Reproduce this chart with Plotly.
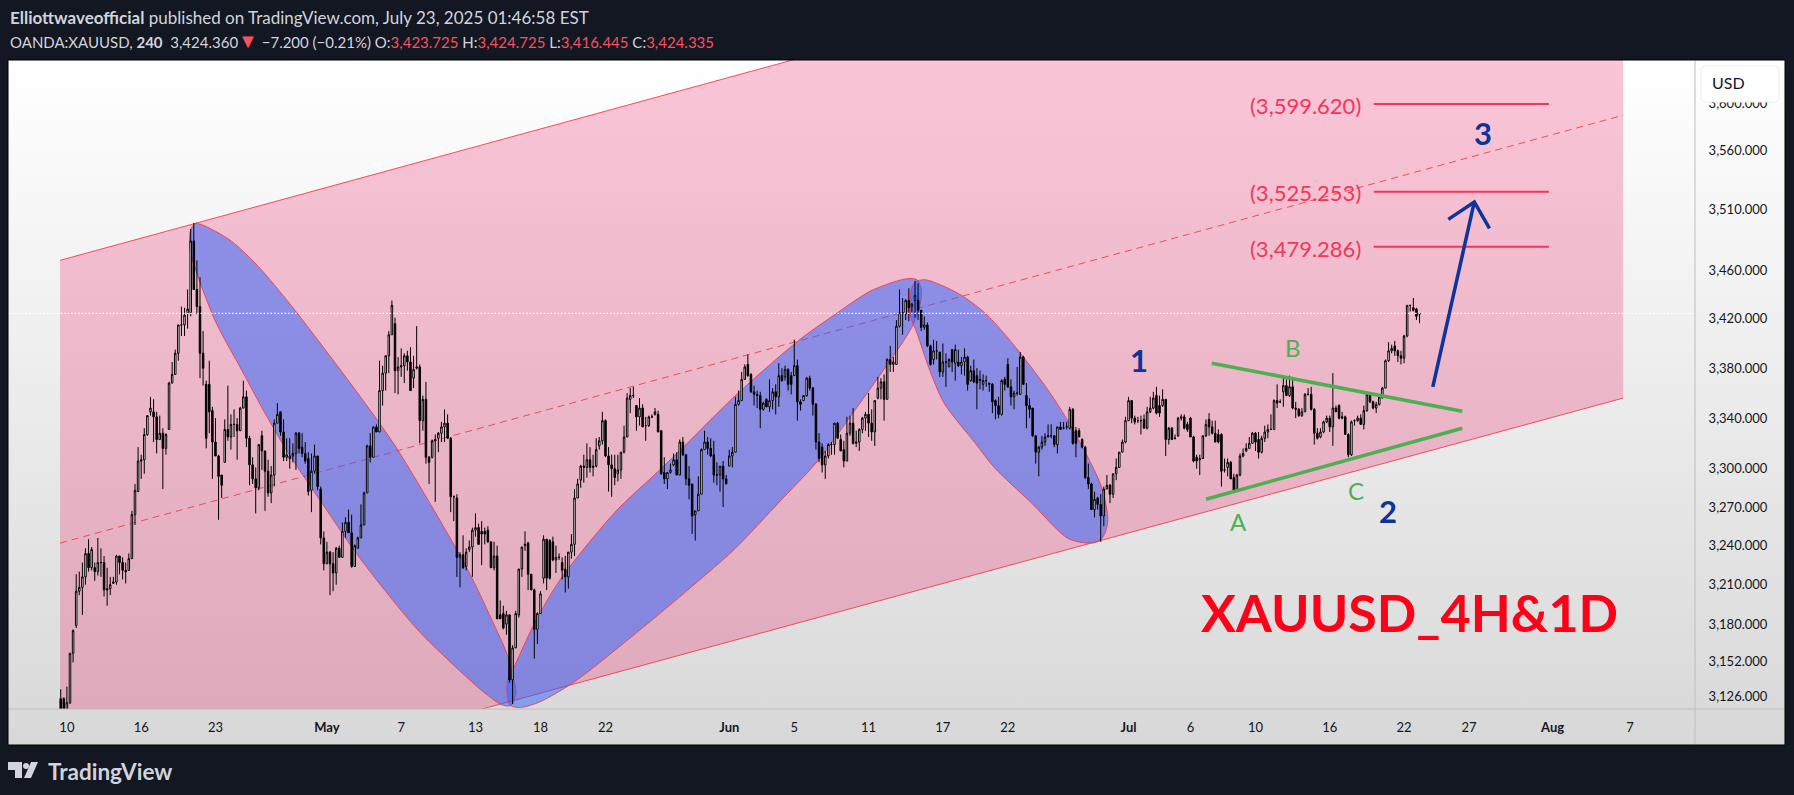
import math
import plotly.graph_objects as go

# 4H bars, left to right
bar_open = [
    3124,3124,3116,3121,3158,3179,3205,3208,3216,3234,
    3223,3223,3220,3227,3227,3207,3207,3211,3212,3232,
    3227,3221,3221,3230,3264,3282,3306,3307,3327,3345,
    3345,3341,3323,3328,3316,3331,3368,3375,3392,3415,
    3415,3425,3425,3484,3444,3430,3392,3367,3367,3346,
    3321,3310,3295,3305,3331,3325,3335,3335,3330,3348,
    3357,3324,3303,3292,3285,3326,3314,3298,3281,3295,
    3336,3345,3329,3309,3308,3310,3312,3328,3317,3312,
    3308,3283,3298,3310,3284,3246,3226,3235,3226,3219,
    3238,3231,3251,3258,3250,3224,3238,3246,3256,3281,
    3318,3309,3333,3329,3362,3376,3390,3407,3416,3378,
    3381,3382,3390,3385,3372,3380,3381,3338,3355,3309,
    3309,3322,3324,3328,3333,3336,3324,3278,3277,3231,
    3233,3224,3237,3239,3252,3254,3251,3251,3252,3243,
    3223,3232,3187,3188,3180,3187,3138,3162,3187,3222,
    3240,3242,3218,3206,3176,3188,3215,3245,3244,3243,
    3229,3231,3227,3222,3216,3235,3241,3277,3291,3302,
    3301,3307,3301,3302,3318,3322,3338,3310,3303,3300,
    3296,3299,3313,3325,3355,3358,3350,3341,3348,3334,
    3334,3341,3343,3343,3330,3297,3292,3297,3303,3307,
    3295,3321,3311,3292,3288,3264,3267,3280,3315,3321,
    3316,3311,3295,3295,3302,3292,3302,3310,3313,3351,
    3354,3371,3383,3375,3361,3359,3358,3347,3355,3349,
    3354,3361,3357,3374,3373,3379,3374,3374,3382,3353,
    3354,3358,3372,3364,3351,3321,3317,3303,3310,3319,
    3319,3336,3323,3315,3306,3328,3336,3320,3321,3331,
    3340,3343,3336,3329,3356,3364,3369,3355,3387,3383,
    3383,3414,3425,3424,3435,3430,3435,3435,3427,3413,
    3415,3398,3387,3394,3393,3377,3385,3381,3395,3384,
    3385,3382,3385,3389,3370,3378,3374,3370,3367,3370,
    3368,3367,3354,3350,3343,3371,3383,3365,3357,3360,
    3359,3389,3358,3350,3348,3326,3313,3317,3321,3325,
    3326,3326,3319,3333,3332,3333,3332,3347,3330,3330,
    3323,3317,3293,3288,3268,3277,3272,3263,3284,3287,
    3280,3296,3301,3313,3321,3338,3354,3340,3338,3338,
    3339,3332,3345,3348,3358,3350,3350,3355,3323,3332,
    3324,3326,3340,3341,3335,3340,3325,3309,3307,3308,
    3326,3339,3333,3328,3327,3327,3299,3301,3305,3293,
    3283,3295,3310,3314,3316,3320,3328,3323,3313,3324,
    3329,3331,3331,3354,3353,3361,3366,3358,3365,3348,
    3347,3342,3345,3359,3359,3347,3328,3325,3329,3337,
    3340,3333,3348,3350,3340,3341,3327,3311,3338,3338,
    3340,3335,3346,3359,3353,3348,3351,3356,3364,3386,
    3394,3398,3394,3390,3388,3406,3431,3429,3428,3423.725,
]
bar_high = [
    3131,3125,3133,3158,3176,3218,3220,3227,3238,3245,
    3239,3227,3246,3238,3232,3223,3216,3216,3233,3232,
    3231,3227,3234,3267,3288,3317,3311,3332,3342,3357,
    3355,3345,3342,3332,3328,3369,3385,3395,3415,3430,
    3429,3444,3494,3499,3468,3454,3410,3370,3386,3349,
    3340,3311,3295,3339,3366,3343,3347,3340,3349,3370,
    3362,3326,3309,3301,3319,3330,3314,3307,3302,3339,
    3352,3345,3339,3324,3324,3320,3329,3329,3328,3321,
    3313,3312,3319,3310,3286,3251,3243,3236,3235,3239,
    3240,3258,3262,3268,3264,3241,3247,3272,3282,3319,
    3328,3333,3335,3386,3382,3390,3410,3435,3421,3389,
    3396,3392,3394,3397,3390,3414,3383,3358,3369,3310,
    3323,3327,3329,3337,3347,3343,3325,3279,3280,3235,
    3248,3238,3244,3254,3265,3257,3259,3254,3255,3243,
    3243,3240,3198,3194,3190,3187,3164,3190,3222,3239,
    3251,3243,3218,3207,3189,3205,3248,3245,3245,3247,
    3240,3234,3231,3232,3235,3249,3284,3292,3303,3311,
    3320,3317,3311,3324,3325,3345,3339,3317,3311,3311,
    3311,3313,3334,3360,3364,3365,3350,3356,3351,3341,
    3342,3343,3348,3346,3330,3309,3297,3304,3312,3313,
    3323,3325,3311,3302,3288,3267,3294,3316,3330,3325,
    3324,3322,3305,3302,3306,3295,3315,3317,3357,3362,
    3377,3383,3391,3376,3366,3362,3361,3353,3356,3371,
    3364,3367,3384,3380,3382,3380,3377,3403,3387,3355,
    3358,3373,3374,3365,3352,3328,3320,3314,3320,3321,
    3336,3337,3327,3322,3341,3342,3348,3330,3332,3341,
    3345,3360,3347,3354,3373,3372,3375,3388,3398,3389,
    3419,3444,3437,3436,3445,3433,3451,3449,3427,3422,
    3417,3399,3403,3402,3393,3400,3392,3388,3395,3399,
    3395,3389,3396,3390,3382,3387,3380,3378,3375,3374,
    3368,3368,3355,3357,3371,3373,3388,3371,3362,3381,
    3393,3390,3368,3356,3348,3326,3318,3326,3328,3335,
    3335,3326,3333,3337,3337,3337,3349,3348,3333,3332,
    3324,3318,3304,3289,3282,3278,3280,3286,3295,3288,
    3296,3308,3313,3323,3341,3357,3354,3342,3341,3342,
    3343,3349,3357,3361,3365,3358,3363,3355,3333,3333,
    3327,3341,3343,3343,3337,3341,3326,3311,3311,3326,
    3339,3344,3338,3338,3331,3328,3308,3308,3306,3296,
    3296,3312,3316,3320,3325,3329,3329,3329,3326,3334,
    3335,3343,3355,3367,3355,3374,3371,3374,3373,3353,
    3348,3348,3360,3364,3365,3348,3332,3332,3338,3342,
    3342,3376,3350,3351,3345,3342,3328,3338,3339,3342,
    3343,3350,3360,3359,3354,3353,3357,3365,3387,3401,
    3399,3402,3395,3394,3407,3431,3431,3437,3429,3424.725,
]
bar_low = [
    3112,3112,3114,3120,3151,3177,3202,3187,3210,3220,
    3221,3213,3217,3216,3201,3194,3202,3211,3210,3218,
    3214,3211,3221,3230,3256,3282,3292,3296,3326,3342,
    3321,3312,3323,3284,3311,3331,3368,3375,3386,3406,
    3406,3412,3422,3444,3424,3372,3366,3316,3328,3292,
    3310,3260,3277,3305,3322,3315,3325,3307,3330,3348,
    3317,3287,3288,3265,3283,3299,3267,3278,3273,3286,
    3336,3326,3306,3306,3300,3305,3299,3312,3309,3304,
    3279,3266,3296,3283,3241,3221,3226,3202,3205,3210,
    3231,3231,3246,3250,3223,3224,3238,3246,3256,3281,
    3305,3309,3329,3329,3350,3362,3376,3407,3360,3359,
    3373,3368,3378,3362,3364,3379,3320,3330,3304,3288,
    3308,3274,3313,3321,3321,3324,3266,3259,3216,3208,
    3222,3221,3235,3216,3247,3241,3225,3241,3242,3223,
    3221,3184,3184,3176,3172,3136,3120,3162,3185,3216,
    3236,3206,3206,3154,3165,3188,3211,3206,3214,3228,
    3219,3229,3214,3204,3207,3230,3232,3277,3285,3289,
    3293,3297,3294,3301,3315,3319,3309,3282,3278,3287,
    3290,3292,3312,3325,3344,3356,3330,3334,3333,3322,
    3333,3340,3342,3329,3295,3288,3284,3296,3302,3295,
    3295,3310,3287,3276,3249,3244,3267,3280,3315,3311,
    3309,3289,3287,3282,3270,3288,3302,3301,3313,3350,
    3354,3371,3373,3360,3350,3348,3332,3346,3349,3345,
    3347,3343,3349,3369,3370,3362,3359,3374,3338,3346,
    3354,3357,3362,3342,3315,3305,3297,3292,3308,3311,
    3311,3324,3314,3301,3306,3326,3319,3317,3314,3328,
    3330,3325,3322,3318,3355,3355,3338,3355,3377,3377,
    3383,3413,3407,3419,3418,3425,3421,3419,3410,3411,
    3397,3382,3383,3387,3373,3373,3365,3381,3377,3370,
    3381,3375,3374,3362,3369,3368,3347,3363,3362,3365,
    3361,3344,3339,3340,3342,3362,3364,3350,3347,3358,
    3359,3367,3332,3340,3325,3304,3294,3315,3318,3325,
    3324,3317,3312,3331,3331,3331,3331,3319,3309,3325,
    3316,3292,3284,3268,3262,3268,3243,3255,3284,3273,
    3277,3291,3301,3313,3320,3338,3336,3335,3336,3327,
    3332,3331,3344,3347,3343,3341,3349,3310,3319,3323,
    3323,3325,3338,3331,3329,3325,3305,3300,3295,3308,
    3325,3326,3327,3321,3320,3286,3297,3294,3292,3281,
    3283,3294,3309,3313,3316,3320,3314,3308,3312,3321,
    3324,3331,3331,3348,3352,3349,3358,3357,3347,3340,
    3341,3341,3345,3358,3346,3319,3323,3324,3328,3336,
    3329,3318,3345,3339,3339,3327,3309,3310,3334,3337,
    3335,3331,3345,3352,3347,3344,3350,3356,3364,3385,
    3392,3390,3385,3383,3384,3405,3426,3426,3419,3416.445,
]
bar_close = [
    3116,3116,3121,3158,3175,3205,3208,3216,3234,3223,
    3237,3220,3227,3227,3206,3206,3210,3212,3232,3227,
    3221,3220,3230,3264,3283,3306,3307,3327,3342,3348,
    3341,3323,3328,3316,3327,3368,3375,3392,3415,3415,
    3423,3428,3484,3444,3430,3392,3380,3324,3345,3321,
    3310,3294,3287,3331,3325,3335,3335,3330,3348,3357,
    3324,3303,3292,3285,3319,3314,3298,3281,3295,3336,
    3343,3329,3309,3311,3310,3312,3328,3316,3312,3306,
    3282,3298,3310,3286,3246,3226,3235,3226,3219,3238,
    3231,3251,3258,3250,3224,3240,3246,3256,3281,3318,
    3309,3333,3329,3362,3376,3390,3407,3431,3378,3381,
    3382,3390,3385,3362,3379,3381,3338,3355,3309,3305,
    3322,3323,3328,3333,3336,3324,3278,3278,3231,3233,
    3223,3235,3239,3252,3254,3241,3249,3249,3243,3223,
    3232,3184,3184,3177,3187,3138,3162,3188,3222,3239,
    3241,3218,3206,3176,3188,3203,3245,3215,3215,3229,
    3231,3231,3221,3216,3235,3241,3277,3288,3302,3301,
    3307,3301,3302,3315,3322,3338,3310,3303,3300,3293,
    3299,3313,3325,3356,3358,3358,3341,3348,3333,3334,
    3341,3341,3345,3329,3296,3292,3297,3299,3307,3295,
    3321,3311,3292,3287,3263,3267,3280,3315,3321,3316,
    3310,3295,3295,3302,3292,3288,3310,3313,3351,3354,
    3371,3381,3374,3361,3359,3358,3347,3352,3349,3354,
    3361,3357,3374,3370,3379,3367,3367,3382,3353,3351,
    3358,3372,3364,3351,3321,3308,3303,3310,3319,3319,
    3336,3324,3314,3306,3328,3336,3320,3321,3331,3340,
    3343,3336,3329,3354,3364,3369,3355,3387,3383,3385,
    3414,3425,3425,3435,3429,3432,3439,3427,3413,3415,
    3398,3383,3394,3394,3377,3385,3385,3387,3385,3395,
    3382,3385,3389,3367,3378,3369,3368,3371,3370,3370,
    3367,3353,3350,3343,3370,3367,3365,3357,3360,3360,
    3389,3367,3350,3347,3326,3313,3317,3321,3325,3326,
    3326,3319,3333,3331,3332,3333,3347,3320,3320,3325,
    3317,3293,3288,3268,3276,3272,3263,3284,3287,3280,
    3296,3301,3313,3321,3338,3354,3340,3337,3338,3338,
    3332,3345,3348,3356,3344,3344,3355,3323,3332,3323,
    3324,3340,3341,3332,3331,3325,3306,3306,3308,3326,
    3335,3333,3328,3321,3321,3298,3299,3305,3292,3283,
    3295,3310,3312,3316,3320,3328,3321,3313,3324,3329,
    3331,3331,3354,3352,3353,3366,3358,3365,3348,3347,
    3342,3345,3359,3359,3347,3328,3324,3329,3337,3340,
    3333,3348,3345,3340,3341,3327,3311,3337,3338,3340,
    3335,3346,3359,3353,3348,3351,3357,3364,3386,3394,
    3396,3394,3390,3388,3406,3431,3431,3427,3422,3424.335,
]

# axis labels
time_tick_bars = [2, 26, 50, 86, 110, 134, 155, 176, 216, 237, 261, 285, 306, 345, 365, 386, 410, 434, 455, 482, 507]
time_tick_text = ["10", "16", "23", "<b>May</b>", "7", "13", "18", "22", "<b>Jun</b>", "5", "11", "17", "22",
                  "<b>Jul</b>", "6", "10", "16", "22", "27", "<b>Aug</b>", "7"]
price_ticks = [3126, 3152, 3180, 3210, 3240, 3270, 3300, 3340, 3380, 3420, 3460, 3510, 3560, 3600]

# drawings, as bar number and price
channel_x = [-0.2, 504.8]
channel_top = [3468, 3840]
channel_mid = [3242, 3590]
channel_bot = [3032, 3356]

arc1_x = [43.7, 54.1, 62.8, 72.5, 87.3, 101.6, 109, 126.3, 132.8, 141.3, 144.1, 146.1, 147.1, 146.1, 145.2,
          142.5, 137.1, 126.3, 115.4, 104.8, 95.6, 83.1, 73.4, 64.9, 58.5, 49.9, 43.4, 41.8, 41.6, 42.1, 43.7]
arc1_y = [3498.6, 3485.8, 3465.8, 3437, 3388.8, 3340.8, 3314.4, 3243.9, 3215.4, 3173, 3158, 3141, 3129, 3121, 3118.6,
          3119.4, 3128, 3150.5, 3175.5, 3205.5, 3233.8, 3277.7, 3312.8, 3348.8, 3378.4, 3418.4, 3461.7, 3475.9, 3485.8, 3494.2, 3498.6]
arc2_x = [144.4, 146.8, 152.3, 158.1, 162.9, 179.1, 193.3, 201.4, 218.5, 238.4, 249.5, 261.8, 273, 276.7, 278, 277.6,
          274.9, 266.7, 256.6, 244.7, 231.8, 221.1, 216.1, 197.5, 179.1, 165.4, 154.2, 148, 145, 144.2, 144.4]
arc2_y = [3138, 3149.3, 3177, 3201.8, 3219, 3266, 3298.5, 3317.6, 3359.2, 3402.4, 3422.4, 3442.9, 3452.7, 3451.9, 3444.5, 3430.6,
          3412.8, 3381.6, 3346.4, 3306.4, 3273, 3245.5, 3233.7, 3195.8, 3160.3, 3135.7, 3121, 3117.4, 3119.4, 3128, 3138]
arc3_x = [276, 279.3, 290.2, 298.9, 306.7, 319, 327.7, 336.3, 338.3, 337.4, 335.8, 332.6, 325.5, 313.7, 301.6,
          295.5, 285.4, 280.4, 276.7, 274.7, 274.7, 276]
arc3_y = [3450, 3452, 3440.4, 3424, 3402.4, 3362.4, 3328, 3285.4, 3260, 3250, 3244, 3242, 3245.5, 3273, 3301,
          3320, 3352, 3380.8, 3408, 3420.8, 3443, 3450]

target_x = [424.2, 480.8]
target_prices = [3599.62, 3525.253, 3479.286]
last_price_x = [-17, 528]
last_price = [3424.36, 3424.36]
tri_top_x = [371.9, 452.8]
tri_top_y = [3384, 3345.5]
tri_bot_x = [370, 452.8]
tri_bot_y = [3276, 3332]
arrow_x = [443.3, 456.7, None, 448.3, 456.7, 461.6]
arrow_y = [3365, 3516.6, None, 3502, 3516.6, 3494.5]

DARK = "#131722"
RED = "#f23645"
ROSE = "#f2365a"
NAVY = "#0d3499"
GREEN = "#4caf50"
TEXT = "#d1d4dc"
FONT = "Lato"

PANEL_L, PANEL_R, PANEL_T, PANEL_B = 8, 1785, 60, 745
SCALE_X, TIME_Y = 1695, 709


def px(x):
    return (x - PANEL_L) / (PANEL_R - PANEL_L)


def py(y):
    return (PANEL_B - y) / (PANEL_B - PANEL_T)


fig = go.Figure()

# background gradient, lowest subplot
fig.add_trace(go.Scatter(x=[0, 1, 1, 0, 0], y=[0, 0, 1, 1, 0], mode="lines", line=dict(width=0), fill="toself",
                         fillgradient=dict(type="vertical", colorscale=[[0, "#d8d8d8"], [1, "#ffffff"]]),
                         hoverinfo="skip", xaxis="x", yaxis="y"))

# channel and arcs sit under the candles
fig.add_trace(go.Scatter(x=channel_x + channel_x[::-1] + channel_x[:1], y=channel_top + channel_bot[::-1] + channel_top[:1],
                         mode="lines", line=dict(width=0), fill="toself", fillcolor="rgba(233,30,99,0.26)",
                         hoverinfo="skip", xaxis="x2", yaxis="y2"))
for ys, dash in [(channel_top, "solid"), (channel_bot, "solid"), (channel_mid, "7px 5px")]:
    fig.add_trace(go.Scatter(x=channel_x, y=ys, mode="lines", line=dict(color="rgba(242,54,69,0.85)", width=1, dash=dash),
                             hoverinfo="skip", xaxis="x2", yaxis="y2"))
for ax, ay in [(arc1_x, arc1_y), (arc2_x, arc2_y), (arc3_x, arc3_y)]:
    fig.add_trace(go.Scatter(x=ax, y=ay, mode="lines", line=dict(color="rgba(242,54,69,0.85)", width=1, shape="spline", smoothing=0.8),
                             fill="toself", fillcolor="rgba(41,98,255,0.5)", hoverinfo="skip", xaxis="x2", yaxis="y2"))

fig.add_trace(go.Candlestick(x=list(range(len(bar_close))), open=bar_open, high=bar_high, low=bar_low, close=bar_close,
                             increasing=dict(line=dict(color="#000000", width=1), fillcolor="#ffffff"),
                             decreasing=dict(line=dict(color="#000000", width=1), fillcolor="#000000"),
                             whiskerwidth=0, xaxis="x3", yaxis="y3"))

# everything drawn over the candles
fig.add_trace(go.Scatter(x=last_price_x, y=last_price, mode="lines", line=dict(color="#ffffff", width=1.2, dash="1.5px 2px"),
                         hoverinfo="skip", xaxis="x4", yaxis="y4"))
for p in target_prices:
    fig.add_trace(go.Scatter(x=target_x, y=[p, p], mode="lines", line=dict(color=ROSE, width=2),
                             hoverinfo="skip", xaxis="x4", yaxis="y4"))
for tx, ty in [(tri_top_x, tri_top_y), (tri_bot_x, tri_bot_y)]:
    fig.add_trace(go.Scatter(x=tx, y=ty, mode="lines", line=dict(color=GREEN, width=3.5),
                             hoverinfo="skip", xaxis="x4", yaxis="y4"))
fig.add_trace(go.Scatter(x=arrow_x, y=arrow_y, mode="lines", line=dict(color=NAVY, width=3.5),
                         hoverinfo="skip", xaxis="x4", yaxis="y4"))

x_domain = [0, px(SCALE_X)]
y_domain = [py(TIME_Y), 1]
x_range = [-17.03, 528]
y_range = [math.log10(3116.3), math.log10(3637.6)]
hidden = dict(visible=False, fixedrange=True)
x_price = dict(hidden, domain=x_domain, range=x_range, rangeslider=dict(visible=False))
y_price = dict(hidden, domain=y_domain, range=y_range, type="log")

labels = [
    (8, 17, "<b>Elliottwaveofficial</b> published on TradingView.com, July 23, 2025 01:46:58 EST", 17, TEXT, "left"),
    (8, 40, 'OANDA:XAUUSD, <b>240</b>  3,424.360<span style="color:#f7525f;font-size:20px">▼</span> −7.200 (−0.21%) '
            'O:<span style="color:#f7525f">3,423.725</span> H:<span style="color:#f7525f">3,424.725</span> '
            'L:<span style="color:#f7525f">3,416.445</span> C:<span style="color:#f7525f">3,424.335</span>', 15, TEXT, "left"),
    (1305, 105, "(3,599.620)", 22, ROSE, "center"),
    (1305, 192.7, "(3,525.253)", 22, ROSE, "center"),
    (1305, 248, "(3,479.286)", 22, ROSE, "center"),
    (1139, 360, "<b>1</b>", 31, NAVY, "center"),
    (1387.6, 511, "<b>2</b>", 31, NAVY, "center"),
    (1483, 133, "<b>3</b>", 31, NAVY, "center"),
    (1238.5, 521, "A", 24, GREEN, "center"),
    (1293, 348, "B", 24, GREEN, "center"),
    (1356, 490, "C", 24, GREEN, "center"),
    (1409, 612, "<b>XAUUSD_4H&amp;1D</b>", 52, "#ff0019", "center"),
    (1710, 83, "USD", 16, DARK, "left"),
    (46, 771, "<b>TradingView</b>", 22.5, TEXT, "left"),
]
annotations = [dict(x=px(x), y=py(y), xref="paper", yref="paper", text=t, showarrow=False, xanchor=a, yanchor="middle",
                    font=dict(family=FONT, size=s, color=c)) for x, y, t, s, c, a in labels]


def box_path(x0, y0, x1, y1, r):
    rx, ry = r / (PANEL_R - PANEL_L), r / (PANEL_B - PANEL_T)
    a, b, c, d = px(x0), py(y0), px(x1), py(y1)
    return (f"M {a + rx} {b} L {c - rx} {b} Q {c} {b} {c} {b - ry} L {c} {d + ry} Q {c} {d} {c - rx} {d} "
            f"L {a + rx} {d} Q {a} {d} {a} {d + ry} L {a} {b - ry} Q {a} {b} {a + rx} {b} Z")


def poly(points):
    return "M " + " L ".join(f"{px(x)} {py(y)}" for x, y in points) + " Z"


shapes = [
    dict(type="line", xref="paper", yref="paper", x0=px(SCALE_X), x1=px(SCALE_X), y0=0, y1=1, line=dict(color="#bdbdbd", width=1)),
    dict(type="line", xref="paper", yref="paper", x0=0, x1=1, y0=py(TIME_Y), y1=py(TIME_Y), line=dict(color="#bdbdbd", width=1)),
    dict(type="rect", xref="paper", yref="paper", x0=0, x1=1, y0=0, y1=1, line=dict(color="#000000", width=1)),
    dict(type="path", xref="paper", yref="paper", path=box_path(1701, 66, 1779, 102, 5), fillcolor="#ffffff", line=dict(color="#eeeeee", width=1)),
    # TradingView mark
    dict(type="path", xref="paper", yref="paper", path=poly([(8, 762), (22, 762), (22, 778), (15, 778), (15, 770), (8, 770)]), fillcolor=TEXT, line=dict(width=0)),
    dict(type="circle", xref="paper", yref="paper", x0=px(23), x1=px(29), y0=py(769), y1=py(763), fillcolor=TEXT, line=dict(width=0)),
    dict(type="path", xref="paper", yref="paper", path=poly([(31, 762), (38, 762), (31, 778), (24, 778)]), fillcolor=TEXT, line=dict(width=0)),
]

fig.update_layout(
    width=1794, height=795, autosize=False,
    margin=dict(l=PANEL_L, r=1794 - PANEL_R, t=PANEL_T, b=795 - PANEL_B, pad=0),
    paper_bgcolor=DARK, plot_bgcolor="rgba(0,0,0,0)", showlegend=False, hovermode=False,
    font=dict(family=FONT, color=DARK),
    xaxis=dict(hidden, domain=[0, 1], range=[0, 1]),
    yaxis=dict(hidden, domain=[0, 1], range=[0, 1]),
    xaxis2=dict(x_price, anchor="y2"),
    yaxis2=dict(y_price, anchor="x2"),
    xaxis3=dict(visible=True, fixedrange=True, domain=x_domain, range=x_range, anchor="y3", rangeslider=dict(visible=False),
                showgrid=False, zeroline=False, showline=False, ticks="outside", ticklen=6, tickcolor="rgba(0,0,0,0)",
                tickmode="array", tickvals=time_tick_bars, ticktext=time_tick_text, tickangle=0, tickfont=dict(family=FONT, size=13, color=DARK)),
    yaxis3=dict(visible=True, fixedrange=True, domain=y_domain, range=y_range, type="log", anchor="x3", side="right",
                showgrid=False, zeroline=False, showline=False, ticks="outside", ticklen=10, tickcolor="rgba(0,0,0,0)",
                tickmode="array", tickvals=price_ticks, ticktext=[f"{v:,.3f}" for v in price_ticks], tickfont=dict(family=FONT, size=13, color=DARK)),
    xaxis4=dict(x_price, anchor="y4"),
    yaxis4=dict(y_price, anchor="x4"),
    annotations=annotations, shapes=shapes,
)

fig.write_html("out.html", config=dict(displayModeBar=False),
               post_script="document.body.style.margin='0';document.body.style.overflow='hidden';document.body.style.background='#131722';")
